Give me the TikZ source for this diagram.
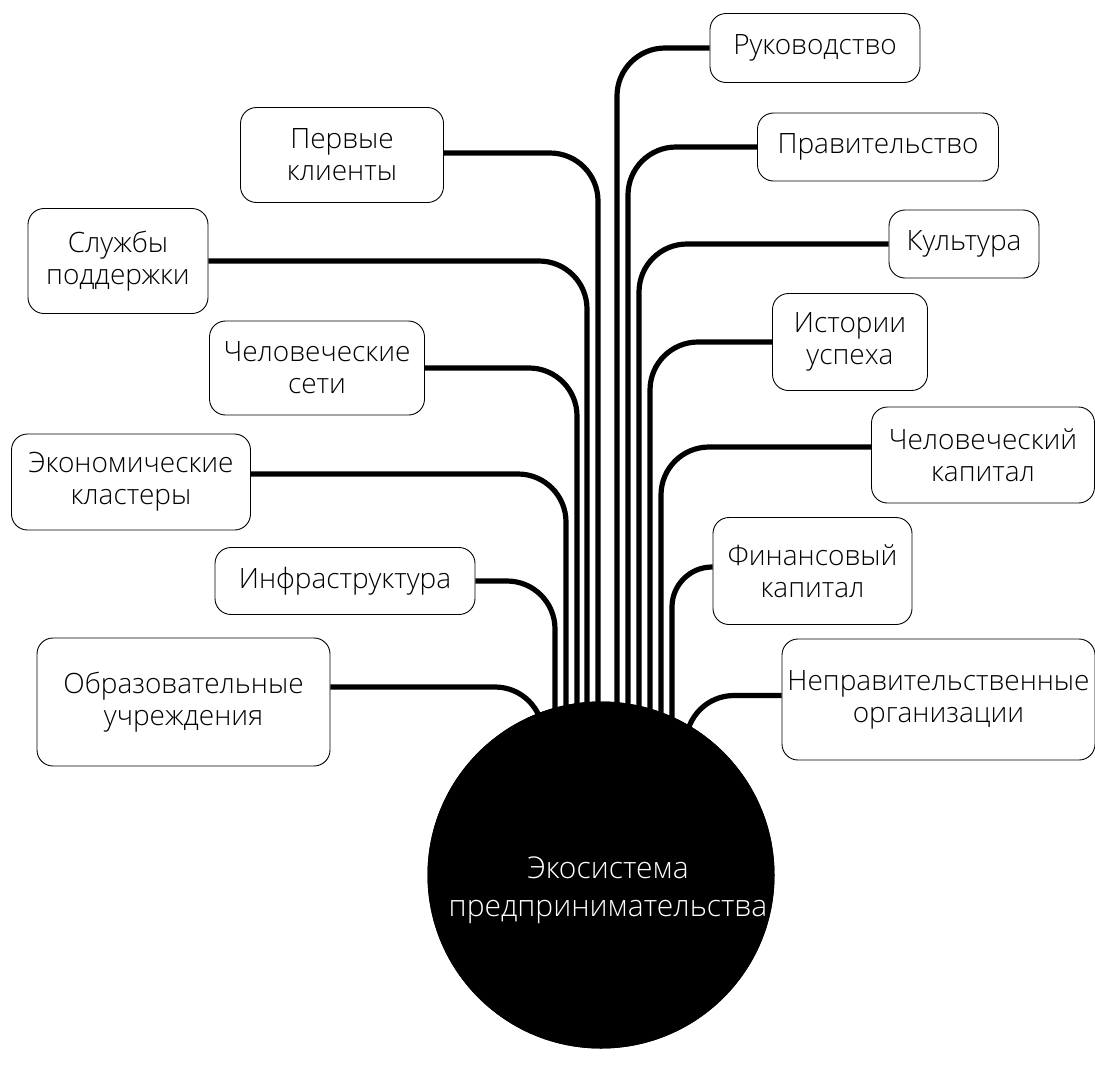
\documentclass[tikz,border=0pt]{standalone}
\usepackage{fontspec}
\IfFontExistsTF{Open Sans Light}{%
  \setmainfont{Open Sans Light}\def\bsz{28}\def\csz{30}}{%
  \setmainfont{Open Sans}\def\bsz{27}\def\csz{29}}
\begin{document}
\begin{tikzpicture}[x=1pt,y=-1pt,
  box/.style={draw, line width=0.9pt, rounded corners=16pt, align=center, inner sep=0pt,
    font=\fontsize{\bsz}{32}\selectfont},
  conn/.style={line width=5.2pt, rounded corners=48pt}]
\useasboundingbox (0,0) rectangle (1095,1074);
% hub
\node (c) [circle, fill=black, minimum size=347pt, inner sep=0pt] at (601,875) {};
\coordinate (ct) at (608,890);
% left boxes
\node (l1) [box, minimum width=203pt, minimum height=95pt] at (342,155) {Первые\\клиенты};
\node (l2) [box, minimum width=180pt, minimum height=105pt] at (118,261) {Службы\\поддержки};
\node (l3) [box, minimum width=215pt, minimum height=94pt] at (317,368) {Человеческие\\сети};
\node (l4) [box, minimum width=239pt, minimum height=96pt] at (131,482) {Экономические\\кластеры};
\node (l5) [box, minimum width=260pt, minimum height=67pt] at (345,581) {Инфраструктура};
\node (l6) [box, minimum width=293pt, minimum height=128pt] at (183.5,702) {Образовательные\\учреждения};
% right boxes
\node (r1) [box, minimum width=210pt, minimum height=69pt] at (815,48) {Руководство};
\node (r2) [box, minimum width=241pt, minimum height=68pt] at (878,147) {Правительство};
\node (r3) [box, minimum width=150pt, minimum height=68pt] at (964,244) {Культура};
\node (r4) [box, minimum width=155pt, minimum height=97pt] at (850,342) {Истории\\успеха};
\node (r5) [box, minimum width=223pt, minimum height=96pt] at (983,455) {Человеческий\\капитал};
\node (r6) [box, minimum width=199pt, minimum height=107pt] at (812.5,571) {Финансовый\\капитал};
\node (r7) [box, minimum width=313pt, minimum height=121pt] at (938.5,699.5) {Неправительственные\\организации};
% vertical columns
\coordinate (v1) at (598,0);
\coordinate (v2) at (587,0);
\coordinate (v3) at (577,0);
\coordinate (v4) at (566,0);
\coordinate (v5) at (555,0);
\coordinate (v6) at (543,0);
\coordinate (w1) at (617,0);
\coordinate (w2) at (628,0);
\coordinate (w3) at (639,0);
\coordinate (w4) at (650,0);
\coordinate (w5) at (661,0);
\coordinate (w6) at (672,0);
\coordinate (w7) at (686,0);
% connector start points
\coordinate (s1) at ([yshift=2pt]l1.east);
\coordinate (s2) at (l2.east);
\coordinate (s3) at (l3.east);
\coordinate (s4) at ([yshift=8pt]l4.east);
\coordinate (s5) at (l5.east);
\coordinate (s6) at ([yshift=15pt]l6.east);
\coordinate (t1) at (r1.west);
\coordinate (t2) at (r2.west);
\coordinate (t3) at (r3.west);
\coordinate (t4) at (r4.west);
\coordinate (t5) at ([yshift=8pt]r5.west);
\coordinate (t6) at ([yshift=4pt]r6.west);
\coordinate (t7) at ([yshift=4pt]r7.west);
% connectors
\foreach \s/\v in {s1/v1,s2/v2,s3/v3,s4/v4,s5/v5,s6/v6,t1/w1,t2/w2,t3/w3,t4/w4,t5/w5,t7/w7}
  \draw[conn] (\s) -- (\s -| \v) -- (\v |- c.center);
\draw[conn, rounded corners=40pt] (t6) -- (t6 -| w6) -- (w6 |- c.center);
% hub on top
\node [circle, fill=black, minimum size=347pt, inner sep=0pt] at (c.center) {};
\node (hubtext) [text=white, align=center, font=\fontsize{\csz}{38}\selectfont] at (ct) {Экосистема\\предпринимательства};
\end{tikzpicture}
\end{document}
